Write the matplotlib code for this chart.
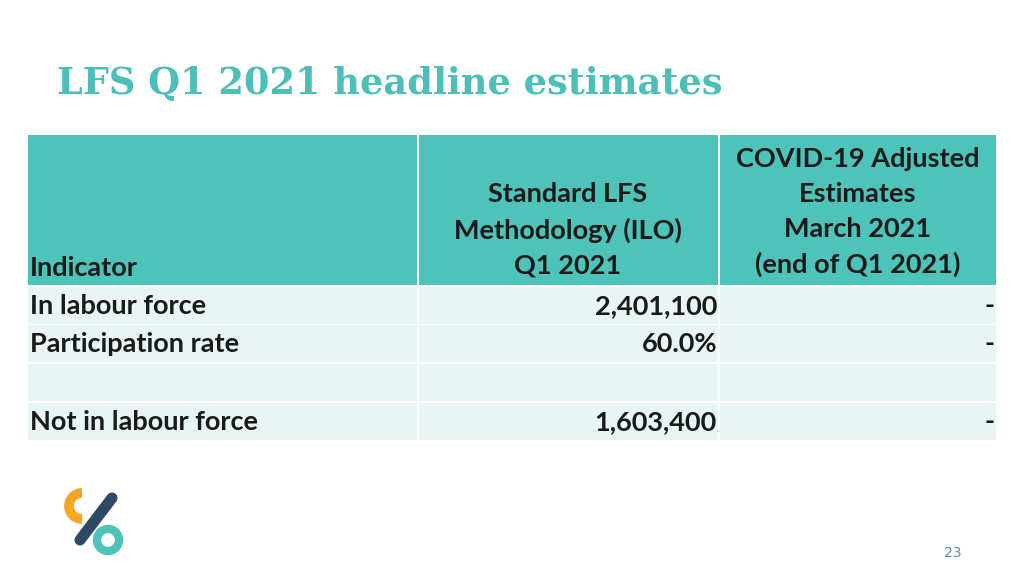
import matplotlib
matplotlib.use("Agg")
import matplotlib.pyplot as plt
from matplotlib.patches import Rectangle, Circle, Arc

title = "LFS Q1 2021 headline estimates"
headers = ["Indicator", "Standard LFS\nMethodology (ILO)\nQ1 2021",
           "COVID-19 Adjusted\nEstimates\nMarch 2021\n(end of Q1 2021)"]
indicators = ["In labour force", "Participation rate", "", "Not in labour force"]
standard_vals = ["2,401,100", "60.0%", "", "1,603,400"]
covid_vals = ["-", "-", "", "-"]
page_number = "23"

TEAL = "#4DC3B9"
LIGHT = "#E9F5F4"
FONT = "Lato"
FS = 19.5

fig = plt.figure(figsize=(10.24, 5.76), dpi=100)
ax = fig.add_axes([0, 0, 1, 1])
ax.set_xlim(0, 1024); ax.set_ylim(576, 0); ax.axis("off")

ax.text(57, 84, title, fontsize=26.5, fontweight="bold", family="DejaVu Serif",
        color="#4BBFB8", va="center", ha="left")

cols = [(28, 417), (419, 718), (720, 996)]
for x0, x1 in cols:
    ax.add_patch(Rectangle((x0, 135), x1 - x0, 150, color=TEAL, lw=0))
ax.text(30, 268, headers[0], fontsize=FS, fontweight="bold", family=FONT, va="center", ha="left", color="#1a1a1a")
ax.text(568, 230, headers[1], fontsize=FS, fontweight="bold", family=FONT, va="center", ha="center",
        color="#1a1a1a", linespacing=1.55)
ax.text(858, 212, headers[2], fontsize=FS, fontweight="bold", family=FONT, va="center", ha="center",
        color="#1a1a1a", linespacing=1.55)

row_tops = [287, 325, 364, 403]
for i, y0 in enumerate(row_tops):
    for x0, x1 in cols:
        ax.add_patch(Rectangle((x0, y0), x1 - x0, 37, color=LIGHT, lw=0))
    yc = y0 + 19
    ax.text(30, yc, indicators[i], fontsize=FS, fontweight="bold", family=FONT, va="center", ha="left", color="#1a1a1a")
    ax.text(717, yc, standard_vals[i], fontsize=FS, fontweight="bold", family=FONT, va="center", ha="right", color="#1a1a1a")
    ax.text(995, yc, covid_vals[i], fontsize=FS, fontweight="bold", family=FONT, va="center", ha="right", color="#1a1a1a")

ax.add_patch(Arc((82, 506), 26, 26, theta1=90, theta2=270, color="#F5A623", lw=7))
ax.plot([80, 112], [540, 498], color="#2C4A63", lw=8, solid_capstyle="round")
ax.add_patch(Circle((108, 540), 11, fill=False, ec="#4DC3B9", lw=6))

ax.text(953, 553, page_number, fontsize=10, color="#5a8fa0", ha="center", va="center", family="DejaVu Sans")

fig.savefig("out.png", dpi=100)
